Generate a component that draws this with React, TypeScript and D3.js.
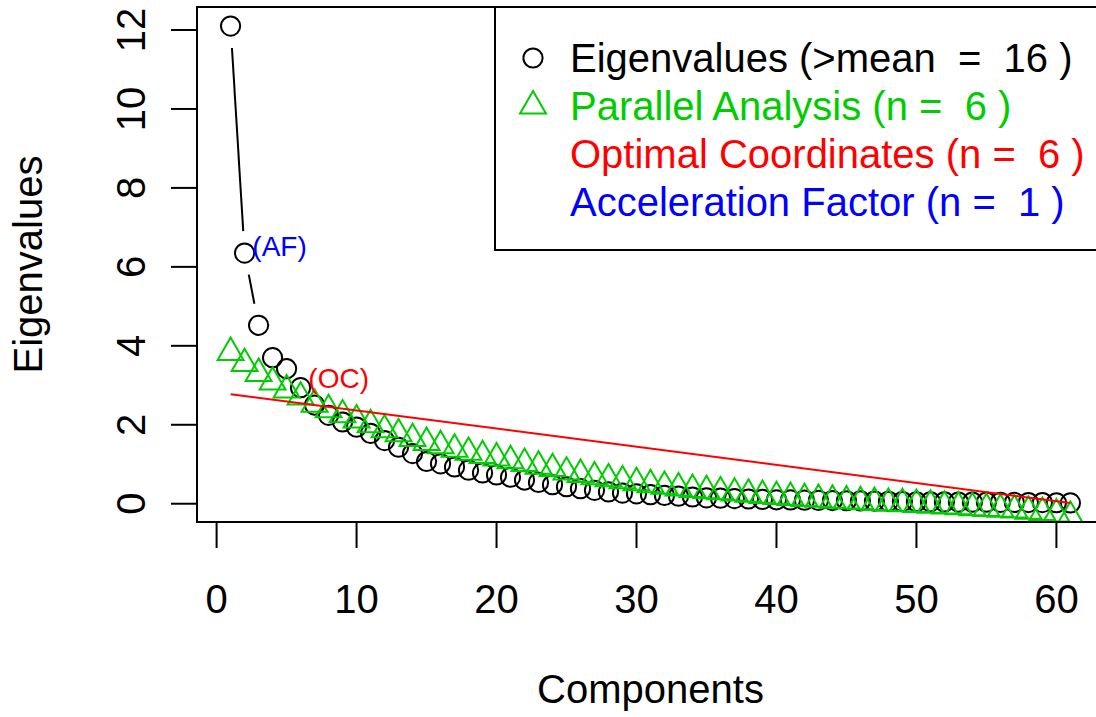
import React from 'react';
import * as d3 from 'd3';

// eigenvalues of the 61 components
const eigenvalues = [
  12.1, 6.35, 4.52, 3.7, 3.42, 2.94, 2.5, 2.24, 2.07, 1.94,
  1.78, 1.6, 1.43, 1.27, 1.07, 1.01, 0.93, 0.85, 0.78, 0.73,
  0.67, 0.6, 0.54, 0.48, 0.43, 0.38, 0.34, 0.3, 0.27, 0.25,
  0.23, 0.21, 0.19, 0.17, 0.15, 0.14, 0.13, 0.12, 0.11, 0.1,
  0.095, 0.09, 0.085, 0.08, 0.075, 0.07, 0.065, 0.06, 0.055, 0.05,
  0.048, 0.045, 0.042, 0.04, 0.038, 0.035, 0.032, 0.03, 0.028, 0.025,
  0.02,
];

// parallel analysis eigenvalues
const parallelAnalysis = [
  3.83, 3.55, 3.3, 3.08, 2.88, 2.7, 2.52, 2.38, 2.25, 2.12,
  2.0, 1.87, 1.77, 1.65, 1.55, 1.47, 1.38, 1.3, 1.22, 1.16,
  1.09, 1.02, 0.95, 0.89, 0.8, 0.74, 0.68, 0.63, 0.58, 0.53,
  0.48, 0.44, 0.4, 0.36, 0.33, 0.3, 0.27, 0.24, 0.21, 0.18,
  0.16, 0.13, 0.11, 0.09, 0.07, 0.05, 0.03, 0.01, 0.0, -0.02,
  -0.04, -0.06, -0.08, -0.1, -0.12, -0.14, -0.16, -0.19, -0.22, -0.26,
  -0.32,
];

const xTicks = [0, 10, 20, 30, 40, 50, 60];
const yTicks = [0, 2, 4, 6, 8, 10, 12];

const nKaiser = 16;
const nParallel = 6;
const nOC = 6;
const nAF = 1;

const legendLabels = [
  `Eigenvalues (>mean  =  ${nKaiser} )`,
  `Parallel Analysis (n =  ${nParallel} )`,
  `Optimal Coordinates (n =  ${nOC} )`,
  `Acceleration Factor (n =  ${nAF} )`,
];
const legendColors = ['#000000', '#00CD00', '#FF0000', '#0000FF'];
const legendSymbols = ['circle', 'triangle', null, null];

const W = 1096;
const H = 717;
const FONT = '"Liberation Sans", Arial, Helvetica, sans-serif';
const FS = 40;

const plot = { left: 197, right: 1104, top: 7, bottom: 522 };

const R = 9.6; // pch radius
const triPath = (cx: number, cy: number) => {
  const r = 1.555 * R, xc = 1.347 * R, yc = 0.778 * R;
  return `M${cx},${cy - r}L${cx + xc},${cy + yc}L${cx - xc},${cy + yc}Z`;
};

// type = "b": segments between points with a gap around each point
const gapped = (pts: [number, number][], gap: number) => {
  const out: number[][] = [];
  for (let i = 0; i < pts.length - 1; i++) {
    const [x0, y0] = pts[i];
    const [x1, y1] = pts[i + 1];
    const dx = x1 - x0, dy = y1 - y0;
    const d = Math.hypot(dx, dy);
    if (d > 2 * gap) {
      out.push([x0 + (dx / d) * gap, y0 + (dy / d) * gap, x1 - (dx / d) * gap, y1 - (dy / d) * gap]);
    }
  }
  return out;
};

export default function App() {
  const k = eigenvalues.map((_, i) => i + 1);
  const nk = eigenvalues.length;

  const x = d3.scaleLinear().domain([-1.4, 63.4]).range([plot.left, plot.right]);
  const y = d3.scaleLinear().domain([-0.463, 12.583]).range([plot.bottom, plot.top]);

  const eigPts = k.map((c, i) => [x(c), y(eigenvalues[i])] as [number, number]);
  const paPts = k.map((c, i) => [x(c), y(parallelAnalysis[i])] as [number, number]);

  // optimal coordinates line through eig[noc+1] and eig[nk]
  const slope = (eigenvalues[nk - 1] - eigenvalues[nOC]) / (nk - (nOC + 1));
  const ocAt = (kk: number) => eigenvalues[nOC] + slope * (kk - (nOC + 1));

  const gap = 22;
  const lg = { left: 495, top: plot.top, bottom: 250, symX: 533, textX: 570, base0: 72, step: 48 };

  return (
    <svg width={W} height={H} style={{ position: 'absolute', left: 0, top: 0, background: '#fff' }}
      fontFamily={FONT}>
      <defs>
        <clipPath id="plotClip">
          <rect x={plot.left} y={plot.top} width={plot.right - plot.left} height={plot.bottom - plot.top} />
        </clipPath>
      </defs>
      <rect width={W} height={H} fill="#fff" />

      <g clipPath="url(#plotClip)">
        {/* eigenvalues */}
        {gapped(eigPts, gap).map((s, i) => (
          <line key={'es' + i} x1={s[0]} y1={s[1]} x2={s[2]} y2={s[3]} stroke="#000" strokeWidth={2} />
        ))}
        {eigPts.map(([cx, cy], i) => (
          <circle key={'e' + i} cx={cx} cy={cy} r={R} fill="none" stroke="#000" strokeWidth={2} />
        ))}

        {/* parallel analysis */}
        {gapped(paPts, gap).map((s, i) => (
          <line key={'ps' + i} x1={s[0]} y1={s[1]} x2={s[2]} y2={s[3]} stroke="#00CD00" strokeWidth={2} />
        ))}
        {paPts.map(([cx, cy], i) => (
          <path key={'p' + i} d={triPath(cx, cy)} fill="none" stroke="#00CD00" strokeWidth={2} strokeLinejoin="miter" />
        ))}

        {/* optimal coordinates */}
        <line x1={x(1)} y1={y(ocAt(1))} x2={x(nk)} y2={y(ocAt(nk))} stroke="#FF0000" strokeWidth={2} />
      </g>

      <text x={x(nOC)} y={y(eigenvalues[nOC - 1])} fontSize={FS * 0.7} fill="#FF0000" style={{ whiteSpace: 'pre' }}>
        {' (OC)'}
      </text>
      <text x={x(nAF + 1)} y={y(eigenvalues[nAF]) + 3} fontSize={FS * 0.7} fill="#0000FF" style={{ whiteSpace: 'pre' }}>
        {' (AF)'}
      </text>

      {/* legend */}
      <rect x={lg.left} y={lg.top} width={plot.right - lg.left} height={lg.bottom - lg.top}
        fill="none" stroke="#000" strokeWidth={2} />
      {legendLabels.map((lab, i) => {
        const base = lg.base0 + i * lg.step;
        const cy = base - 14;
        return (
          <g key={'l' + i}>
            {legendSymbols[i] === 'circle' && (
              <circle cx={lg.symX} cy={cy} r={R} fill="none" stroke={legendColors[i]} strokeWidth={2} />
            )}
            {legendSymbols[i] === 'triangle' && (
              <path d={triPath(lg.symX, cy)} fill="none" stroke={legendColors[i]} strokeWidth={2} />
            )}
            <text x={lg.textX} y={base} fontSize={FS} fill={legendColors[i]} style={{ whiteSpace: 'pre' }}>
              {lab}
            </text>
          </g>
        );
      })}

      {/* plot box */}
      <rect x={plot.left} y={plot.top} width={plot.right - plot.left} height={plot.bottom - plot.top}
        fill="none" stroke="#000" strokeWidth={2} />

      {/* x axis */}
      <line x1={x(xTicks[0])} x2={x(xTicks[xTicks.length - 1])} y1={plot.bottom + 26} y2={plot.bottom + 26}
        stroke="#000" strokeWidth={0} />
      {xTicks.map((t) => (
        <g key={'xt' + t}>
          <line x1={x(t)} x2={x(t)} y1={plot.bottom} y2={plot.bottom + 26} stroke="#000" strokeWidth={2} />
          <text x={x(t)} y={613} fontSize={FS} textAnchor="middle" fill="#000">{t}</text>
        </g>
      ))}

      {/* y axis */}
      {yTicks.map((t) => (
        <g key={'yt' + t}>
          <line x1={plot.left - 26} x2={plot.left} y1={y(t)} y2={y(t)} stroke="#000" strokeWidth={2} />
          <text transform={`translate(145,${y(t)}) rotate(-90)`} fontSize={FS} textAnchor="middle" fill="#000">{t}</text>
        </g>
      ))}

      <text x={(plot.left + plot.right) / 2} y={703} fontSize={FS} textAnchor="middle" fill="#000">Components</text>
      <text transform={`translate(42,${(plot.top + plot.bottom) / 2}) rotate(-90)`} fontSize={FS}
        textAnchor="middle" fill="#000">Eigenvalues</text>
    </svg>
  );
}
